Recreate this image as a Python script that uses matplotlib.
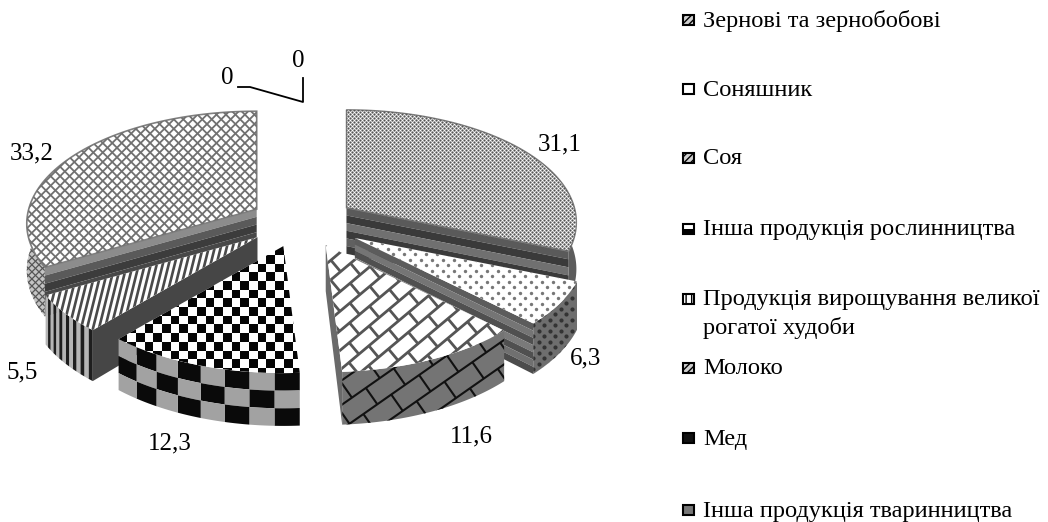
import numpy as np
import matplotlib
matplotlib.use("Agg")
import matplotlib.pyplot as plt
from matplotlib.patches import Polygon, Rectangle
from matplotlib.collections import LineCollection, PolyCollection

plt.rcParams["font.family"] = ["Liberation Serif", "DejaVu Serif"]

# ------------------------------------------------------------
# Data
# ------------------------------------------------------------
categories = [
    "Зернові та зернобобові",
    "Соняшник",
    "Соя",
    "Інша продукція рослинництва",
    "Продукція вирощування великої\nрогатої худоби",
    "Молоко",
    "Мед",
    "Інша продукція тваринництва",
]
values = [31.1, 6.3, 11.6, 12.3, 5.5, 33.2, 0, 0]
value_labels = ["31,1", "6,3", "11,6", "12,3", "5,5", "33,2", "0", "0"]

# ------------------------------------------------------------
# Layout (pixels)
# ------------------------------------------------------------
label_pos = [(560, 144), (586, 358), (471, 436), (170, 443), (22, 372), (32, 153), (227, 78), (298, 61)]
legend_y = [20, 89, 158, 229, 299, 368, 438, 510]
apex_nudge = [(1, 0), (9, 2), (2, 0), (-2, 0), (-4, -1), (0, 0), (0, 0), (0, 0)]
CX, CY = 302, 222
RX, RY, K = 228, 110.6, 0.129
EXPLODE = 0.23
DEPTH = 46

fig = plt.figure(figsize=(10.48, 5.22), dpi=100)
ax = fig.add_axes([0, 0, 1, 1])
ax.set_xlim(0, 1048)
ax.set_ylim(522, 0)
ax.axis("off")


def scale(a):
    return 1 / (1 + K * np.cos(a))


def rim_point(apex, a):
    s = scale(a)
    return apex + np.array([RX * np.sin(a) * s, -RY * np.cos(a) * s])


def down(a):
    return np.array([0, DEPTH * scale(a)])


def poly(pts, fc, ec="none", lw=0.0, z=1):
    p = Polygon(pts, closed=True, facecolor=fc, edgecolor=ec, linewidth=lw, zorder=z)
    ax.add_patch(p)
    return p


def lines(patch, spacing, angle, lw, color, z=1):
    # parallel lines clipped to the patch
    xy = patch.get_xy()
    c = xy.mean(axis=0)
    size = np.ptp(xy, axis=0).max() + 30
    t = np.radians(angle)
    d = np.array([np.cos(t), -np.sin(t)])
    n = np.array([np.sin(t), np.cos(t)])
    segs = [[c + n * o - d * size, c + n * o + d * size] for o in np.arange(-size, size, spacing)]
    lc = LineCollection(segs, colors=color, linewidths=lw, zorder=z)
    ax.add_collection(lc)
    lc.set_clip_path(patch)


def bricks(patch, h, w, angle, lw, color, z=1):
    lines(patch, h, angle, lw, color, z)
    xy = patch.get_xy()
    c = xy.mean(axis=0)
    size = np.ptp(xy, axis=0).max() + 30
    t = np.radians(angle)
    d = np.array([np.cos(t), -np.sin(t)])
    n = np.array([np.sin(t), np.cos(t)])
    segs = []
    for i, o in enumerate(np.arange(-size, size, h)):
        for q in np.arange(-size, size, w):
            start = c + n * o + d * (q + (i % 2) * w / 2)
            segs.append([start, start + n * h])
    lc = LineCollection(segs, colors=color, linewidths=lw, zorder=z)
    ax.add_collection(lc)
    lc.set_clip_path(patch)


def dots(patch, spacing, size, color, z=1):
    xy = patch.get_xy()
    x0, y0 = xy.min(axis=0)
    x1, y1 = xy.max(axis=0)
    px, py = [], []
    for i, y in enumerate(np.arange(y0, y1, spacing / 2)):
        for x in np.arange(x0 + (i % 2) * spacing / 2, x1, spacing):
            px.append(x)
            py.append(y)
    sc = ax.scatter(px, py, s=size, c=color, linewidths=0, zorder=z)
    sc.set_clip_path(patch)


def checks(patch, cell, color, z=1):
    xy = patch.get_xy()
    x0, y0 = xy.min(axis=0)
    x1, y1 = xy.max(axis=0)
    cells = []
    for i, x in enumerate(np.arange(x0, x1, cell)):
        for j, y in enumerate(np.arange(y0, y1, cell)):
            if (i + j) % 2 == 0:
                cells.append([(x, y), (x + cell, y), (x + cell, y + cell), (x, y + cell)])
    pc = PolyCollection(cells, facecolors=color, edgecolors="none", zorder=z)
    ax.add_collection(pc)
    pc.set_clip_path(patch)


def side(apex, a0, a1, fc, z=1):
    # outer rim of a slice, only the part that faces the viewer
    arc = np.linspace(a0, a1, 60)
    top = [rim_point(apex, a) for a in arc]
    bot = [rim_point(apex, a) + down(a) for a in arc]
    return poly(top + bot[::-1], fc, z=z)


def side_cells(apex, a0, a1, ncol, nrow, colors, z=1):
    cells, fcs = [], []
    grid = np.linspace(a0, a1, ncol + 1)
    for i in range(ncol):
        for j in range(nrow):
            pts = []
            arc = np.linspace(grid[i], grid[i + 1], 6)
            for a in arc:
                pts.append(rim_point(apex, a) + down(a) * j / nrow)
            for a in arc[::-1]:
                pts.append(rim_point(apex, a) + down(a) * (j + 1) / nrow)
            cells.append(pts)
            fcs.append(colors[(i + j) % len(colors)])
    ax.add_collection(PolyCollection(cells, facecolors=fcs, edgecolors="none", zorder=z))


def wall(apex, a, colors, z=1):
    p0 = apex
    p1 = rim_point(apex, a)
    d0 = np.array([0, DEPTH])
    d1 = down(a)
    n = len(colors)
    for i, c in enumerate(colors):
        poly([p0 + d0 * i / n, p1 + d1 * i / n, p1 + d1 * (i + 1) / n, p0 + d0 * (i + 1) / n], c, z=z)


def top_face(apex, a0, a1, z=1):
    arc = np.linspace(a0, a1, 80)
    return poly([apex] + [rim_point(apex, a) for a in arc], "white", z=z)


# ------------------------------------------------------------
# Slices
# ------------------------------------------------------------
frac = np.array(values) / sum(values) * 2 * np.pi
ends = np.cumsum(frac)
starts = ends - frac
apexes = []
for a0, a1, nudge in zip(starts, ends, apex_nudge):
    b = (a0 + a1) / 2
    apexes.append(np.array([CX + EXPLODE * RX * np.sin(b) + nudge[0], CY - EXPLODE * RY * np.cos(b) + nudge[1]]))


# 33,2 (back left)
a0, a1, apex = starts[5], ends[5], apexes[5]
s = side(apex, a0, np.radians(280), "#c4c4c4", z=1)
lines(s, 5, 45, 0.9, "#555555", z=1)
lines(s, 5, -45, 0.9, "#555555", z=1)
wall(apex, a0, ["#8c8c8c", "#5a5a5a", "#3c3c3c", "#484848", "#8a8a8a", "#8a8a8a"], z=1)
t = top_face(apex, a0, a1, z=2)
t.set_edgecolor("#808080")
t.set_linewidth(1.2)
lines(t, 6.7, 45, 1.3, "#707070", z=2)
lines(t, 6.7, -45, 1.3, "#707070", z=2)

# 31,1 (back right)
a0, a1, apex = starts[0], ends[0], apexes[0]
s = side(apex, np.radians(80), a1, "#5c5c5c", z=1)
wall(apex, a1, ["#5a5a5a", "#3a3a3a", "#707070", "#3a3a3a", "#606060", "#3a3a3a"], z=1)
t = top_face(apex, a0, a1, z=2)
t.set_edgecolor("#808080")
t.set_linewidth(1.0)
dots(t, 4, 2.6, "#555555", z=2)

# 5,5
a0, a1, apex = starts[4], ends[4], apexes[4]
side_cells(apex, a0, a1, 14, 1, ["#1e1e1e", "#b5b5b5"], z=3)
wall(apex, a0, ["#464646"], z=3)
t = top_face(apex, a0, a1, z=4)
lines(t, 5.8, 76, 1.9, "#4a4a4a", z=4)

# 6,3
a0, a1, apex = starts[1], ends[1], apexes[1]
s = side(apex, a0, a1, "#6e6e6e", z=3)
dots(s, 11, 9, "#333333", z=3)
wall(apex, a1, ["#5c5c5c", "#757575", "#505050", "#7a7a7a", "#505050", "#707070", "#4c4c4c"], z=3)
t = top_face(apex, a0, a1, z=4)
dots(t, 11, 6, "#777777", z=4)

# 12,3
a0, a1, apex = starts[3], ends[3], apexes[3]
side_cells(apex, a0, a1, 8, 3, ["#0a0a0a", "#a2a2a2"], z=5)
t = top_face(apex, a0, a1, z=6)
checks(t, 8.7, "#050505", z=6)

# 11,6
a0, a1, apex = starts[2], ends[2], apexes[2]
s = side(apex, a0, a1, "#747474", z=5)
bricks(s, 20, 34, 35, 1.5, "#111111", z=5)
wall(apex, a1, ["#6a6a6a"], z=5)
t = top_face(apex, a0, a1, z=6)
bricks(t, 15, 26, 40, 2.0, "#555555", z=6)

# leader lines of the two zero slices
ax.plot([238, 250, 303, 303], [87, 87, 102, 78], color="black", lw=1.3, zorder=7)

for txt, (x, y) in zip(value_labels, label_pos):
    ax.text(x, y, txt, fontsize=18, ha="center", va="center", color="black", zorder=8)

# ------------------------------------------------------------
# Legend
# ------------------------------------------------------------
legend_fill = ["#cfcfcf", "white", "#cfcfcf", "white", "white", "#cfcfcf", "#111111", "#777777"]
legend_hatch = ["/////", None, "/////", None, "|||", "/////", None, None]
for i, (name, y, fc, h) in enumerate(zip(categories, legend_y, legend_fill, legend_hatch)):
    ax.add_patch(Rectangle((683, y - 5), 11, 10, facecolor=fc, edgecolor="black", linewidth=1.5, hatch=h, zorder=7))
    if i == 3:
        # lower half is solid on this key
        ax.add_patch(Rectangle((683, y), 11, 5, facecolor="black", edgecolor="none", zorder=7))
    line_y = y + 1
    for part in name.split("\n"):
        ax.text(703, line_y, part, fontsize=17.6, ha="left", va="center", color="black", zorder=8)
        line_y += 28

fig.savefig("out.png", dpi=100)
